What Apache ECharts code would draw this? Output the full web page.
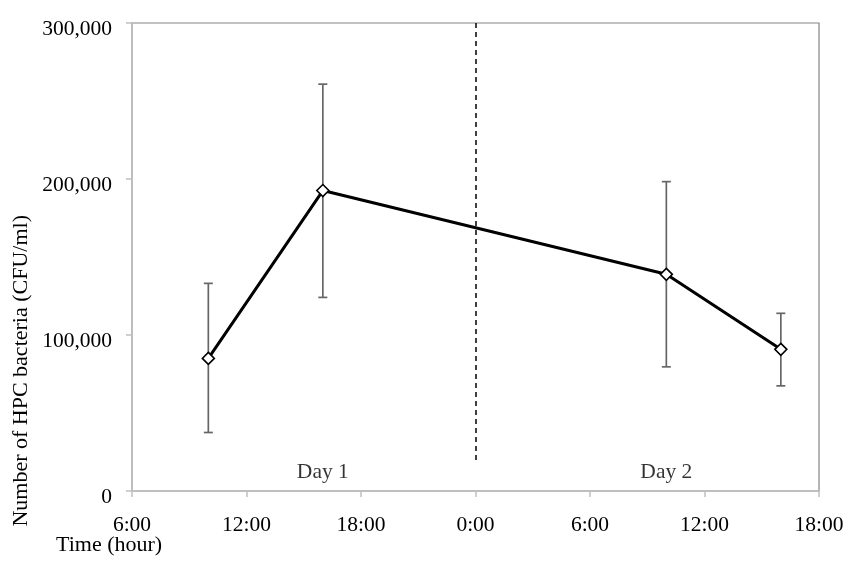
<!DOCTYPE html>
<html>
<head>
<meta charset="utf-8">
<title>HPC bacteria</title>
<script src="https://cdn.jsdelivr.net/npm/echarts@6/dist/echarts.min.js"></script>
<style>
  html, body { margin: 0; padding: 0; background: #fff; }
  #chart { width: 850px; height: 566px; }
</style>
</head>
<body>
<div id="chart"></div>
<script>
// hours counted from 0:00 of day 1
var hours = [10, 16, 34, 40];
var means = [85000, 192600, 138900, 90800];
var errTop = [133100, 260800, 198300, 113900];
var errBottom = [37500, 124100, 79600, 67400];
var dayNames = ['Day 1', 'Day 2'];
var dayHours = [16, 34];
var dayY = [12000, 12000];
var midnight = 24;

var FONT = 'Liberation Serif';

function commas(v) {
  return String(v).replace(/\B(?=(\d{3})+(?!\d))/g, ',');
}

var chart = echarts.init(document.getElementById('chart'));

chart.setOption({
  animation: false,
  textStyle: { fontFamily: FONT },
  grid: {
    left: 132, right: 31, top: 23, bottom: 75,
    show: true, borderColor: '#858585', borderWidth: 1.2
  },
  xAxis: {
    type: 'value',
    min: 6, max: 42, interval: 6,
    axisLine: { show: true, lineStyle: { color: '#c0c0c0', width: 1.5 } },
    axisTick: { show: true, length: 6, inside: false, lineStyle: { color: '#c0c0c0', width: 1.5 } },
    splitLine: { show: false },
    axisLabel: {
      color: '#000', fontSize: 21.5, fontFamily: FONT, margin: 23,
      formatter: function (v) { return (v % 24) + ':00'; }
    }
  },
  yAxis: {
    type: 'value',
    min: 0, max: 300000, interval: 100000,
    axisLine: { show: true, lineStyle: { color: '#c0c0c0', width: 1.5 } },
    axisTick: { show: true, length: 6, lineStyle: { color: '#c0c0c0', width: 1.5 } },
    splitLine: { show: false },
    axisLabel: {
      color: '#000', fontSize: 21.5, fontFamily: FONT, margin: 20,
      verticalAlign: 'top', lineHeight: 12,
      formatter: commas
    }
  },
  graphic: [
    {
      type: 'text', left: 10, top: 215, rotation: Math.PI / 2,
      style: { text: 'Number of HPC bacteria (CFU/ml)', fontSize: 22, fontFamily: FONT, fill: '#000' }
    },
    {
      type: 'text', left: 56, top: 534,
      style: { text: 'Time (hour)', fontSize: 22, fontFamily: FONT, fill: '#000' }
    }
  ],
  series: [
    {
      type: 'custom',
      name: 'error',
      z: 2,
      data: hours.map(function (h, i) { return [h, errBottom[i], errTop[i]]; }),
      renderItem: function (params, api) {
        var lo = api.coord([api.value(0), api.value(1)]);
        var hi = api.coord([api.value(0), api.value(2)]);
        var cap = 4.5;
        var st = { stroke: '#666', lineWidth: 1.7 };
        return {
          type: 'group',
          children: [
            { type: 'line', shape: { x1: lo[0], y1: lo[1], x2: hi[0], y2: hi[1] }, style: st },
            { type: 'line', shape: { x1: lo[0] - cap, y1: lo[1], x2: lo[0] + cap, y2: lo[1] }, style: st },
            { type: 'line', shape: { x1: hi[0] - cap, y1: hi[1], x2: hi[0] + cap, y2: hi[1] }, style: st }
          ]
        };
      }
    },
    {
      type: 'line',
      name: 'HPC',
      z: 3,
      data: hours.map(function (h, i) { return [h, means[i]]; }),
      lineStyle: { color: '#000', width: 3 },
      symbol: 'diamond',
      symbolSize: 12,
      itemStyle: { color: '#fff', borderColor: '#000', borderWidth: 1.6 },
      markLine: {
        silent: true,
        symbol: ['none', 'none'],
        label: { show: false },
        lineStyle: { color: '#000', type: [5, 4], width: 1.5 },
        data: [[{ coord: [midnight, 300000] }, { coord: [midnight, 18500] }]]
      }
    },
    {
      type: 'scatter',
      name: 'days',
      symbol: 'circle',
      symbolSize: 1,
      itemStyle: { color: 'rgba(0,0,0,0)' },
      data: dayHours.map(function (h, i) { return { value: [h, dayY[i]], name: dayNames[i] }; }),
      label: {
        show: true, position: 'inside', color: '#000', fontSize: 21.5, fontFamily: FONT,
        formatter: function (p) { return p.name; }
      }
    }
  ]
});
</script>
</body>
</html>
